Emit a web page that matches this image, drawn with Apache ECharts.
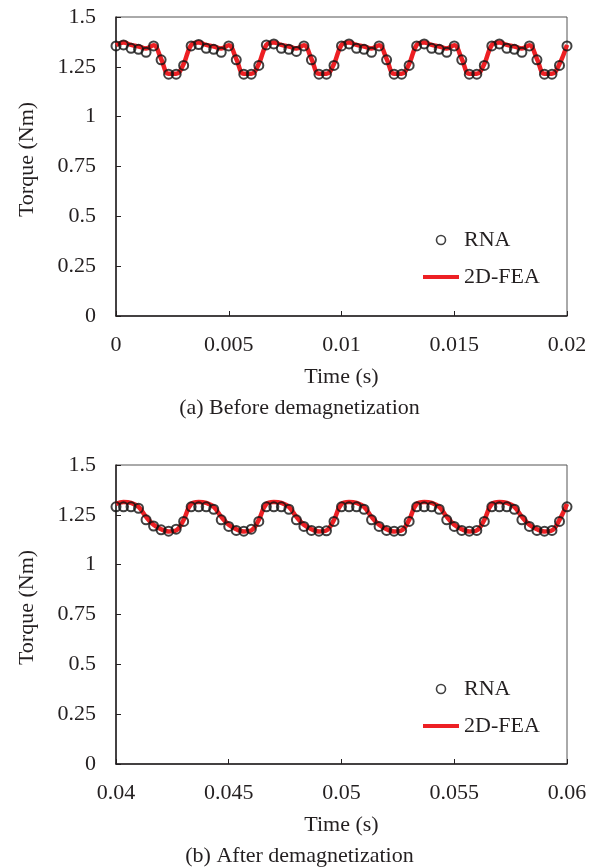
<!DOCTYPE html>
<html>
<head>
<meta charset="utf-8">
<script src="https://cdn.jsdelivr.net/npm/echarts@6/dist/echarts.min.js"></script>
<style>
  html, body { margin: 0; padding: 0; background: #fff; }
  #chart { width: 599px; height: 868px; }
</style>
</head>
<body>
<div id="chart"></div>
<script>
// sample grid: 61 points per panel (0.02 s window, 1/3000 s step)
const SAMPLES = 61
const timeA = Array.from({ length: SAMPLES }, (_, i) => +(i * 0.02 / 60).toFixed(6))
const timeB = Array.from({ length: SAMPLES }, (_, i) => +(0.04 + i * 0.02 / 60).toFixed(6))

// (a) before demagnetization
const rnaA = [
  1.355, 1.360, 1.343, 1.338, 1.323, 1.355, 1.285, 1.213, 1.213, 1.257,
  1.355, 1.362, 1.343, 1.338, 1.323, 1.355, 1.285, 1.213, 1.213, 1.257,
  1.360, 1.365, 1.343, 1.338, 1.327, 1.355, 1.285, 1.213, 1.213, 1.257,
  1.355, 1.365, 1.343, 1.338, 1.323, 1.355, 1.285, 1.213, 1.213, 1.257,
  1.355, 1.365, 1.343, 1.338, 1.323, 1.355, 1.285, 1.213, 1.213, 1.257,
  1.355, 1.365, 1.343, 1.338, 1.323, 1.355, 1.285, 1.213, 1.213, 1.257,
  1.355
]
const feaA = [
  1.360, 1.372, 1.360, 1.352, 1.342, 1.358, 1.290, 1.215, 1.215, 1.265,
  1.360, 1.372, 1.360, 1.352, 1.342, 1.358, 1.290, 1.215, 1.215, 1.265,
  1.360, 1.372, 1.360, 1.352, 1.342, 1.358, 1.290, 1.215, 1.215, 1.265,
  1.360, 1.372, 1.360, 1.352, 1.342, 1.358, 1.290, 1.215, 1.215, 1.265,
  1.360, 1.372, 1.360, 1.352, 1.342, 1.358, 1.290, 1.215, 1.215, 1.265,
  1.360, 1.372, 1.360, 1.352, 1.342, 1.358, 1.290, 1.215, 1.215, 1.265,
  1.360
]

// (b) after demagnetization
const rnaB = [
  1.290, 1.290, 1.290, 1.283, 1.225, 1.194, 1.175, 1.168, 1.178, 1.217,
  1.290, 1.290, 1.290, 1.278, 1.225, 1.192, 1.172, 1.168, 1.178, 1.217,
  1.290, 1.290, 1.290, 1.278, 1.225, 1.192, 1.172, 1.168, 1.170, 1.217,
  1.290, 1.290, 1.290, 1.278, 1.225, 1.192, 1.172, 1.168, 1.170, 1.217,
  1.290, 1.290, 1.290, 1.278, 1.225, 1.192, 1.172, 1.168, 1.172, 1.217,
  1.290, 1.290, 1.290, 1.278, 1.225, 1.192, 1.172, 1.168, 1.172, 1.217,
  1.290
]
const feaB = [
  1.305, 1.315, 1.310, 1.290, 1.240, 1.200, 1.178, 1.166, 1.172, 1.225,
  1.305, 1.315, 1.310, 1.290, 1.240, 1.200, 1.178, 1.166, 1.172, 1.225,
  1.305, 1.315, 1.310, 1.290, 1.240, 1.200, 1.178, 1.166, 1.172, 1.225,
  1.305, 1.315, 1.310, 1.290, 1.240, 1.200, 1.178, 1.166, 1.172, 1.225,
  1.305, 1.315, 1.310, 1.290, 1.240, 1.200, 1.178, 1.166, 1.172, 1.225,
  1.305, 1.315, 1.310, 1.290, 1.240, 1.200, 1.178, 1.166, 1.172, 1.225,
  1.305
]

const panelTitles = ['(a) Before demagnetization', '(b) After demagnetization']
const xRanges = [[0, 0.02], [0.04, 0.06]]

const FONT = '"Liberation Serif", "Times New Roman", serif'
const INK = '#231f20'
const MARK = '#111'
const RED = '#ed2024'

const pair = (xs, ys) => xs.map((x, i) => [x, ys[i]])

const chart = echarts.init(document.getElementById('chart'), null, { renderer: 'canvas' })

const gridTops = [17, 465]
const legendTops = [224, 673]

const option = {
  backgroundColor: '#fff',
  animation: false,
  textStyle: { fontFamily: FONT, color: INK },
  title: panelTitles.map((t, i) => ({
    text: t,
    left: 'center',
    top: gridTops[i] + 375,
    textStyle: { fontFamily: FONT, fontSize: 22, fontWeight: 'normal', color: INK }
  })),
  grid: gridTops.map(top => ({
    left: 116, width: 451, top, height: 299,
    show: true, borderColor: '#555', borderWidth: 1, backgroundColor: 'transparent'
  })),
  legend: legendTops.map(top => ({
    orient: 'vertical',
    left: 418,
    top,
    itemWidth: 36,
    itemHeight: 9,
    itemGap: 15,
    textStyle: { fontFamily: FONT, fontSize: 22, color: INK },
    data: [
      { name: 'RNA', icon: 'circle', itemStyle: { color: 'transparent', borderColor: MARK, borderWidth: 1.6 } },
      { name: '2D-FEA', icon: 'path://M0,0 H36 V4 H0 Z', itemStyle: { color: RED, borderWidth: 0 } }
    ]
  })),
  xAxis: xRanges.map((r, i) => ({
    type: 'value',
    gridIndex: i,
    min: r[0],
    max: r[1],
    interval: 0.005,
    name: 'Time (s)',
    nameLocation: 'middle',
    nameGap: 50,
    nameTextStyle: { fontFamily: FONT, fontSize: 22, color: INK },
    axisLine: { lineStyle: { color: INK, width: 1.5 } },
    axisTick: { inside: true, length: 5, lineStyle: { color: INK, width: 1 } },
    axisLabel: {
      fontFamily: FONT, fontSize: 22, color: INK, margin: 18,
      formatter: v => String(parseFloat(v.toFixed(3)))
    },
    splitLine: { show: false }
  })),
  yAxis: [0, 1].map(i => ({
    type: 'value',
    gridIndex: i,
    min: 0,
    max: 1.5,
    interval: 0.25,
    name: 'Torque (Nm)',
    nameLocation: 'middle',
    nameGap: 78,
    nameTextStyle: { fontFamily: FONT, fontSize: 22, color: INK, padding: [0, 0, 0, 14] },
    axisLine: { show: true, lineStyle: { color: INK, width: 1.5 } },
    axisTick: { show: true, inside: true, length: 5, lineStyle: { color: INK, width: 1 } },
    axisLabel: { fontFamily: FONT, fontSize: 22, color: INK, margin: 20 },
    splitLine: { show: false }
  })),
  series: [
    { name: '2D-FEA', type: 'line', xAxisIndex: 0, yAxisIndex: 0, data: pair(timeA, feaA),
      smooth: 0.4, showSymbol: false, lineStyle: { color: RED, width: 4.5 }, itemStyle: { color: RED }, z: 2 },
    { name: 'RNA', type: 'scatter', xAxisIndex: 0, yAxisIndex: 0, data: pair(timeA, rnaA),
      symbol: 'circle', symbolSize: 9,
      itemStyle: { color: 'transparent', borderColor: MARK, borderWidth: 2 }, z: 3 },
    { name: '2D-FEA', type: 'line', xAxisIndex: 1, yAxisIndex: 1, data: pair(timeB, feaB),
      smooth: 0.4, showSymbol: false, lineStyle: { color: RED, width: 4.5 }, itemStyle: { color: RED }, z: 2 },
    { name: 'RNA', type: 'scatter', xAxisIndex: 1, yAxisIndex: 1, data: pair(timeB, rnaB),
      symbol: 'circle', symbolSize: 9,
      itemStyle: { color: 'transparent', borderColor: MARK, borderWidth: 2 }, z: 3 }
  ]
}

chart.setOption(option)
</script>
</body>
</html>
